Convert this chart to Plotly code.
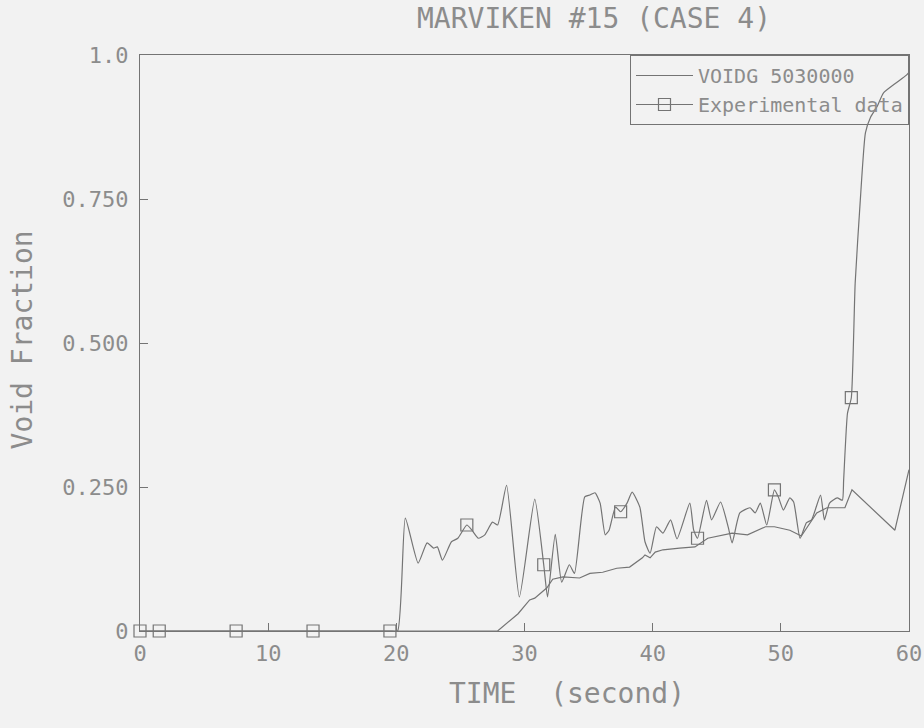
import plotly.graph_objects as go

# ---- data ----
exp_t = [0, 1.5, 7.5, 13.5, 19.5, 20.1, 20.7, 21.7, 22.4, 22.9, 23.2, 23.6, 24.3, 24.8,
         25.5, 25.9, 26.4, 26.9, 27.5, 27.9, 28.6, 29.6, 30.8, 31.5, 31.8, 32.4, 32.9,
         33.5, 33.9, 34.7, 35.1, 35.5, 35.9, 36.3, 36.6, 37.1, 37.5, 38.0, 38.4, 39.0,
         39.4, 39.8, 40.3, 40.8, 41.4, 41.9, 42.9, 43.2, 43.5, 44.2, 44.6, 45.3, 45.9,
         46.2, 46.8, 47.6, 48.0, 48.4, 48.9, 49.5, 49.8, 50.2, 50.7, 51.0, 51.5, 52.0,
         52.4, 53.1, 53.4, 53.8, 54.4, 54.8, 54.9, 55.2, 55.5, 55.8, 56.2, 56.6, 57.0,
         57.5, 58.0, 58.9, 59.8, 60.0]
exp_v = [0, 0, 0, 0, 0, 0, 0.196, 0.118, 0.153, 0.144, 0.146, 0.123, 0.155, 0.161,
         0.184, 0.175, 0.161, 0.167, 0.189, 0.184, 0.253, 0.059, 0.229, 0.115, 0.059,
         0.168, 0.085, 0.115, 0.100, 0.233, 0.236, 0.240, 0.222, 0.167, 0.175, 0.215,
         0.207, 0.222, 0.241, 0.215, 0.155, 0.135, 0.181, 0.170, 0.193, 0.160, 0.222,
         0.175, 0.161, 0.227, 0.193, 0.224, 0.180, 0.153, 0.205, 0.214, 0.205, 0.222,
         0.184, 0.245, 0.233, 0.210, 0.231, 0.224, 0.161, 0.188, 0.193, 0.236, 0.193,
         0.222, 0.231, 0.227, 0.262, 0.378, 0.405, 0.604, 0.748, 0.865, 0.892, 0.910,
         0.934, 0.950, 0.965, 0.970]

exp_marker_t = [0, 1.5, 7.5, 13.5, 19.5, 25.5, 31.5, 37.5, 43.5, 49.5, 55.5]
exp_marker_v = [0, 0, 0, 0, 0, 0.184, 0.115, 0.207, 0.161, 0.245, 0.405]

calc_t = [0, 27.9, 29.5, 30.4, 30.8, 31.75, 32.2, 33.0, 34.3, 35.1, 36.1, 37.2, 38.2,
          39.2, 39.4, 39.8, 40.2, 40.8, 42.1, 43.3, 44.3, 46.2, 47.4, 48.8, 49.5, 50.7,
          51.6, 52.2, 52.8, 53.6, 55.0, 55.55, 58.9, 60.0]
calc_v = [0, 0, 0.030, 0.054, 0.057, 0.075, 0.090, 0.094, 0.092, 0.100, 0.102, 0.109,
          0.111, 0.127, 0.132, 0.127, 0.137, 0.141, 0.144, 0.146, 0.161, 0.170, 0.167,
          0.181, 0.181, 0.175, 0.165, 0.185, 0.205, 0.214, 0.214, 0.245, 0.175, 0.280]

x_ticks = [0, 10, 20, 30, 40, 50, 60]
y_ticks = [0, 0.25, 0.5, 0.75, 1.0]
y_ticktext = ["0", "0.250", "0.500", "0.750", "1.0"]

title_text = "MARVIKEN #15 (CASE 4)"
x_title = "TIME  (second)"
y_title = "Void Fraction"

# ---- style ----
BG = "#f2f2f2"
INK = "#8c8c8c"
LINE = "#747474"
FONT = "DejaVu Sans Mono"

fig = go.Figure()

fig.add_trace(go.Scatter(x=calc_t, y=calc_v, mode="lines", name="VOIDG 5030000",
                         line=dict(color=LINE, width=1.2)))
fig.add_trace(go.Scatter(x=exp_t, y=exp_v, mode="lines", showlegend=False,
                         legendgroup="exp",
                         line=dict(color=LINE, width=1.2, shape="spline", smoothing=0.5)))
fig.add_trace(go.Scatter(x=exp_marker_t, y=exp_marker_v, mode="markers", showlegend=False,
                         legendgroup="exp", cliponaxis=False,
                         marker=dict(symbol="square-open", size=12, color=LINE,
                                     line=dict(width=1.2, color=LINE))))
fig.add_trace(go.Scatter(x=[None], y=[None], mode="lines+markers", name="Experimental data",
                         legendgroup="exp", line=dict(color=LINE, width=1.2),
                         marker=dict(symbol="square-open", size=12, color=LINE,
                                     line=dict(width=1.2, color=LINE))))

axis_common = dict(showgrid=False, zeroline=False, showline=True, mirror=True,
                   automargin=False,
                   linecolor=LINE, linewidth=1.2, ticks="inside", ticklen=8,
                   tickcolor=LINE, tickwidth=1.2,
                   tickfont=dict(family=FONT, size=22, color=INK))

fig.update_xaxes(range=[0, 60], tickvals=x_ticks, ticklabelstandoff=2, **axis_common)
fig.update_yaxes(range=[0, 1], tickvals=y_ticks, ticktext=y_ticktext,
                 ticklabelstandoff=6, **axis_common)

fig.update_layout(
    width=924, height=728,
    margin=dict(l=140, r=15, t=55, b=97, autoexpand=False),
    paper_bgcolor=BG, plot_bgcolor=BG,
    font=dict(family=FONT, color=INK, size=20),
    legend=dict(x=1, xanchor="right", y=1, yanchor="top",
                bgcolor="rgba(0,0,0,0)", bordercolor=LINE, borderwidth=1,
                font=dict(family=FONT, size=20, color=INK),
                itemwidth=57, tracegroupgap=0),
    annotations=[
        dict(text=title_text, xref="paper", yref="paper", x=0.59, y=1.064,
             xanchor="center", yanchor="middle", showarrow=False,
             font=dict(family=FONT, size=28, color=INK)),
        dict(text=x_title, xref="paper", yref="paper", x=0.555, y=-0.108,
             xanchor="center", yanchor="middle", showarrow=False,
             font=dict(family=FONT, size=28, color=INK)),
        dict(text=y_title, xref="paper", yref="paper", x=-0.153, y=0.505,
             xanchor="center", yanchor="middle", showarrow=False, textangle=-90,
             font=dict(family=FONT, size=28, color=INK)),
    ],
)

fig.write_html("out.html", config={"displayModeBar": False},
               post_script="document.body.style.margin='0';document.body.style.overflow='hidden';")
